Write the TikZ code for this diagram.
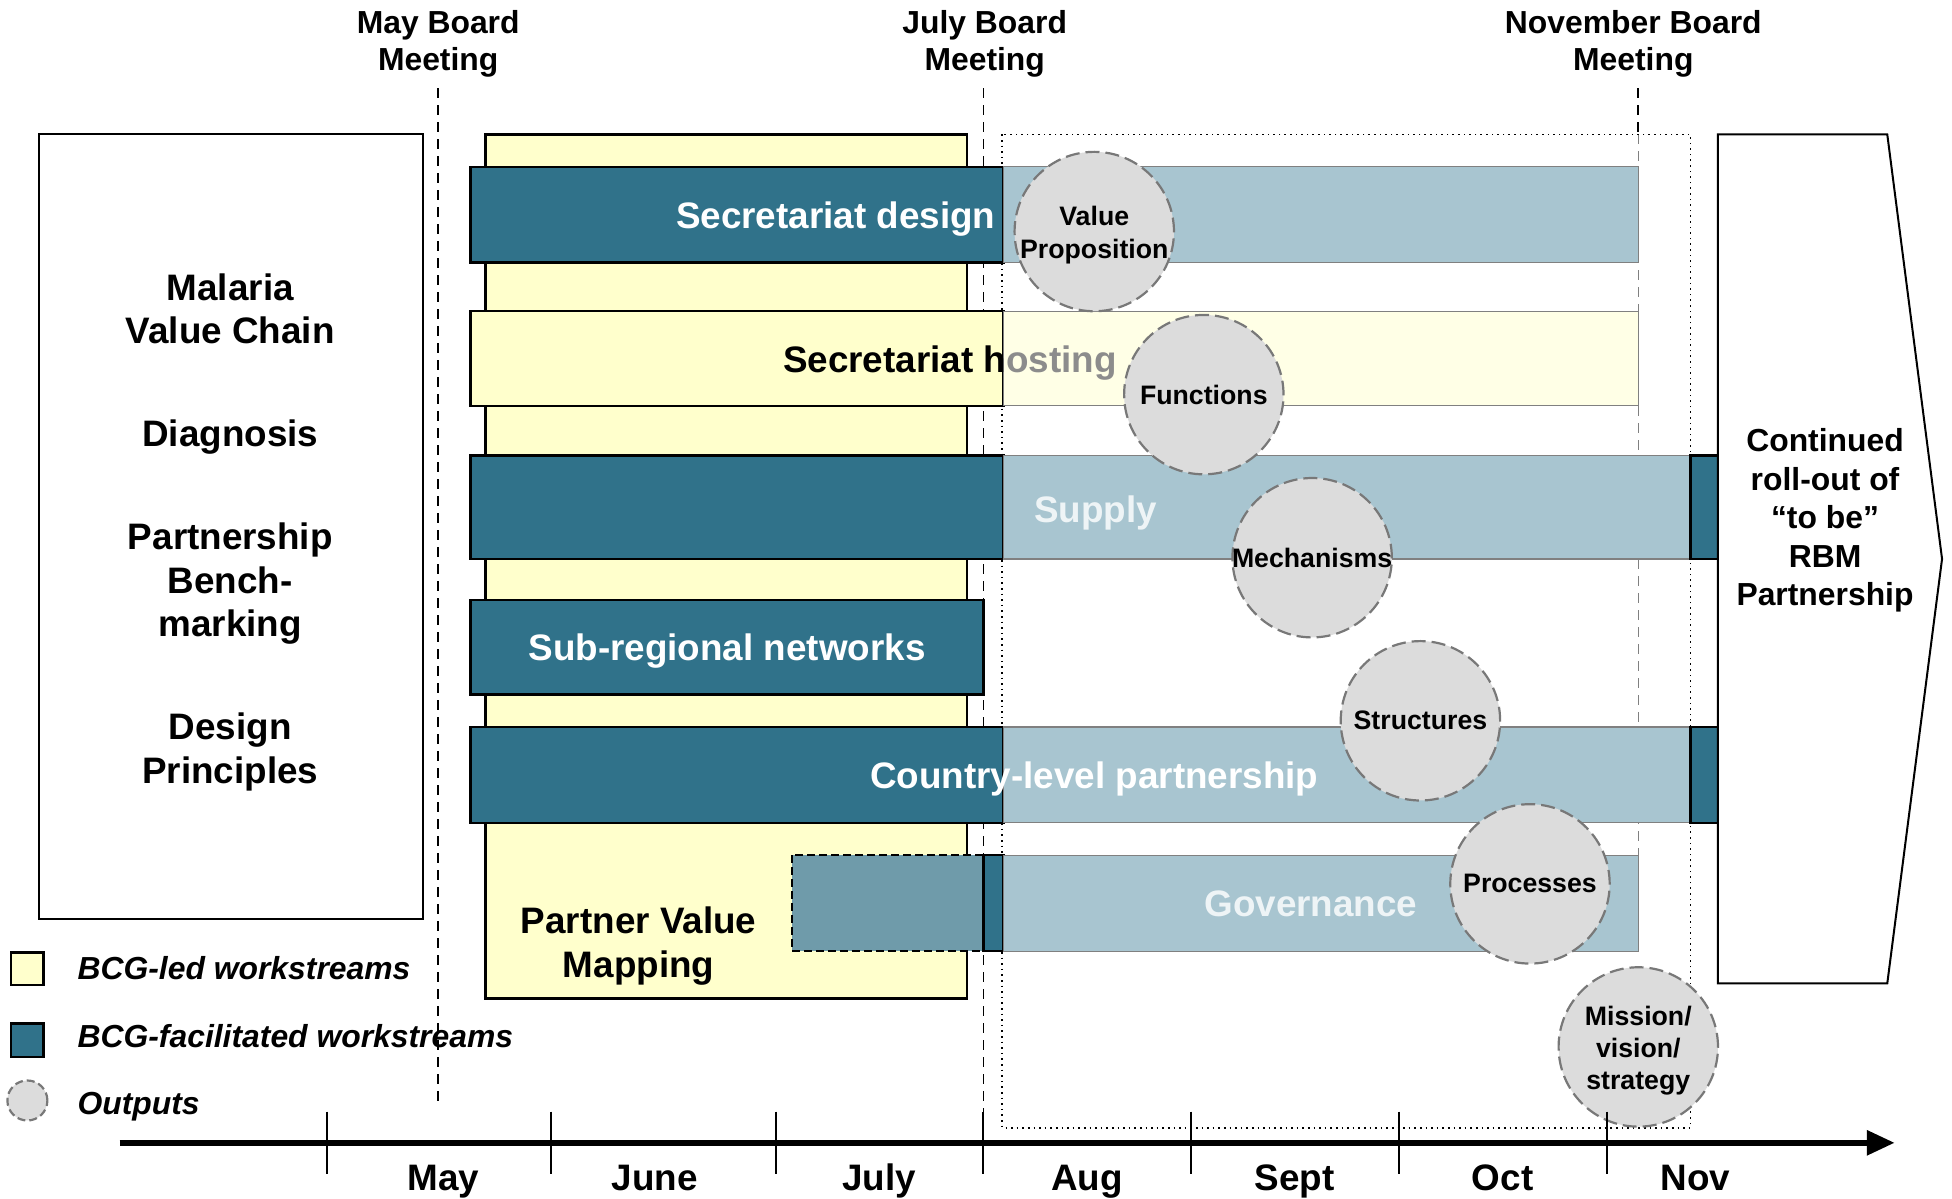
\documentclass[tikz,border=0pt]{standalone}
\usepackage{fontspec}
\setmainfont{Liberation Sans}
\usetikzlibrary{arrows.meta}
\definecolor{teal1}{HTML}{30728A}
\definecolor{yel}{HTML}{FFFFCC}
\definecolor{yelx}{HTML}{FFFFE6}
\definecolor{hatch}{HTML}{A8C5D0}
\definecolor{govl}{HTML}{6F9BAA}
\definecolor{circf}{HTML}{DCDCDC}
\definecolor{circd}{HTML}{787878}
\definecolor{fadew}{HTML}{EEF4F6}
\newcommand\fBar{\fontsize{18.42}{21.8}\selectfont}
\newcommand\fHead{\fontsize{15.93}{18.67}\selectfont}
\newcommand\fRight{\fontsize{15.93}{19.3}\selectfont}
\newcommand\fCirc{\fontsize{13.35}{16.2}\selectfont}
\newcommand\fLeg{\fontsize{15.93}{19}\selectfont}
\begin{document}
\begin{tikzpicture}[x=0.62245pt,y=-0.62245pt,
  tbar/.style={fill=teal1,draw=black,line width=1.2pt},
  ybar/.style={fill=yel,draw=black,line width=1.2pt},
  xbar/.style={fill=hatch,draw=gray,line width=0.6pt},
  xybar/.style={fill=yelx,draw=gray,line width=0.6pt},
  board/.style={draw=black,line width=0.9pt,dash pattern=on 5pt off 3.5pt},
  outc/.style={circle,fill=circf,draw=circd,line width=1.1pt,dash pattern=on 7pt off 3pt,minimum size=79.7pt,inner sep=0pt},
  btxt/.style={inner sep=0pt,font=\bfseries\fBar,align=center},
  one/.style={text height=13.2pt,text depth=0pt},
  htxt/.style={inner sep=0pt,font=\bfseries\fHead,align=center},
  ctxt/.style={inner sep=0pt,font=\bfseries\fCirc,align=center},
  ltxt/.style={inner sep=0pt,font=\bfseries\itshape\fLeg,anchor=west,text height=11.41pt,text depth=0pt},
  mtxt/.style={inner sep=0pt,font=\bfseries\fBar,text height=13.2pt,text depth=0pt},
  tick/.style={draw=black,line width=1pt}
]
\useasboundingbox (0,0) rectangle (1568,963.1);

% header texts
\node[htxt] (hmay) at (352,35) {May Board\\Meeting};
\node[htxt] (hjul) at (791,35) {July Board\\Meeting};
\node[htxt] (hnov) at (1312,35) {November Board\\Meeting};

% left box
\draw[line width=1pt] (31,108) rectangle (340,738);
\node[btxt] (lb1) at (185,248) {Malaria\\Value Chain};
\node[btxt,one] (lb2) at (185,348) {Diagnosis};
\node[btxt] (lb3) at (185,469) {Partnership\\Bench-\\marking};
\node[btxt] (lb4) at (185,604) {Design\\Principles};

% yellow background
\draw[ybar] (390,108) rectangle (777,802);
\node[btxt] (pvm) at (513,760) {Partner Value\\Mapping};

% board lines
\draw[board] (352,71) -- (352,888);
\draw[board] (790,71) -- (790,918);
\draw[board] (1316,71) -- (1316,108);
\draw[draw=gray,line width=0.8pt,dash pattern=on 5pt off 3.5pt] (1316,108) -- (1316,765);

% dotted frame
\draw[line width=0.8pt,dotted] (805,108) rectangle (1358,906);

% bar 1
\draw[tbar] (378,134) rectangle (806,211);
\draw[xbar] (806,134) rectangle (1316,211);
\node[btxt,one,white,anchor=east] (sd) at (800,173) {Secretariat design};

% bar 2
\draw[ybar] (378,250) rectangle (806,326);
\draw[xybar] (806,250) rectangle (1316,326);
\node[btxt,one] (sh) at (763,289) {Secretariat h{\color{black!45}osting}};

% bar 3
\draw[tbar] (378,366) rectangle (806,449);
\draw[xbar] (806,366) rectangle (1358,449);
\draw[tbar] (1358,366) rectangle (1380,449);
\node[btxt,one,fadew] (sup) at (880,409) {Supply};

% bar 4
\draw[tbar] (378,482) rectangle (790,558);
\node[btxt,one,white] (srn) at (584,520) {Sub-regional networks};

% bar 5
\draw[tbar] (378,584) rectangle (806,661);
\draw[xbar] (806,584) rectangle (1358,661);
\draw[tbar] (1358,584) rectangle (1380,661);
\node[btxt,one,white] (clp) at (879,623) {Country-level partnership};

% bar 6
\draw[fill=govl,draw=black,line width=1.2pt,dash pattern=on 4pt off 2pt] (636,687) rectangle (790,764);
\draw[tbar] (790,687) rectangle (806,764);
\draw[xbar] (806,687) rectangle (1316,764);
\node[btxt,one,fadew] (gov) at (1053,726) {Governance};

% outputs
\node[outc] (c1) at (879,186) {};
\node[ctxt] (t1) at ([yshift=-3*0.62245pt]c1.center) {Value\\Proposition};
\node[outc] (c2) at (967,317) {};
\node[ctxt] (t2) at (c2.center) {Functions};
\node[outc] (c3) at (1054,448) {};
\node[ctxt] (t3) at (c3.center) {Mechanisms};
\node[outc] (c4) at (1141,579) {};
\node[ctxt] (t4) at (c4.center) {Structures};
\node[outc] (c5) at (1229,710) {};
\node[ctxt] (t5) at (c5.center) {Processes};
\node[outc] (c6) at (1316,841) {};
\node[ctxt] (t6) at ([yshift=-3*0.62245pt]c6.center) {Mission/\\vision/\\strategy};

% right arrow box
\draw[fill=white,line width=1pt] (1380,108) -- (1516,108) -- (1560,449) -- (1516,790) -- (1380,790) -- cycle;
\node[inner sep=0pt,font=\bfseries\fRight,align=center] (rb) at (1466,418) {Continued\\roll-out of\\“to be”\\RBM\\Partnership};

% axis
\draw[line width=3pt,-{Triangle[length=14pt,width=12pt]}] (96,918) -- (1522,918);
\foreach \x in {263,443,623,790,957,1124,1291}{\draw[tick] (\x,893) -- (\x,943);}
\node[mtxt] (m1) at (356,946) {May};
\node[mtxt] (m2) at (526,946) {June};
\node[mtxt] (m3) at (706,946) {July};
\node[mtxt] (m4) at (873,946) {Aug};
\node[mtxt] (m5) at (1040,946) {Sept};
\node[mtxt] (m6) at (1207,946) {Oct};
\node[mtxt] (m7) at (1362,946) {Nov};

% legend
\draw[fill=yel,line width=1.2pt] (9,765) rectangle (35,791);
\node[ltxt] (lg1) at (62,778) {BCG-led workstreams};
\draw[fill=teal1,line width=1.2pt] (9,822) rectangle (35,849);
\node[ltxt] (lg2) at (62,832) {BCG-facilitated workstreams};
\node[circle,fill=circf,draw=circd,line width=1.1pt,dash pattern=on 4pt off 2pt,minimum size=20pt,inner sep=0pt] (lgc) at (22,884) {};
\node[ltxt] (lg3) at (62,886) {Outputs};
\end{tikzpicture}
\end{document}
